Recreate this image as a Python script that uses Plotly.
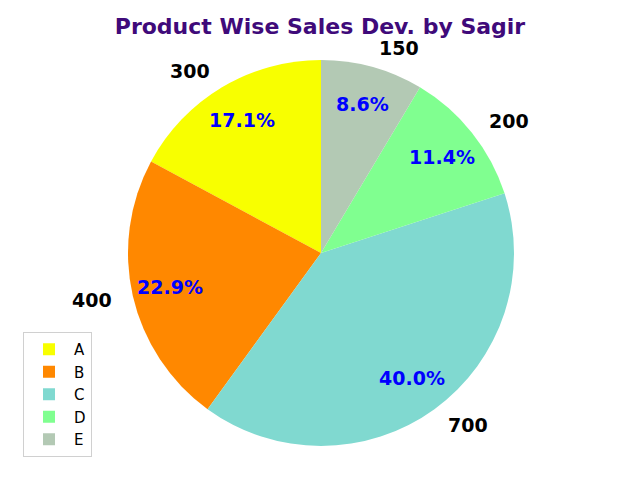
import math
import plotly.graph_objects as go

products = ["A", "B", "C", "D", "E"]
sales = [300, 400, 700, 200, 150]
colors = ["#f8ff00", "#ff8800", "#80d9d0", "#80ff90", "#b3c9b4"]

W, H = 640, 480
cx, cy, r = 321, 480 - 253, 193  # pie centre (px from bottom-left) and radius

total = sum(sales)

fig = go.Figure(go.Pie(
    labels=products, values=sales, sort=False, direction="counterclockwise",
    rotation=-360.0 * sales[0] / total, marker=dict(colors=colors, line=dict(width=0)),
    textinfo="none", hoverinfo="label+value+percent",
    domain=dict(x=[(cx - r) / W, (cx + r) / W], y=[(cy - r) / H, (cy + r) / H]),
))

start = 90.0
annotations = []
for name, v in zip(products, sales):
    span = 360.0 * v / total
    mid = math.radians(start + span / 2)
    start += span
    c, s = math.cos(mid), math.sin(mid)
    annotations.append(dict(
        x=(cx + 1.1 * r * c) / W, y=(cy + 1.1 * r * s) / H, xref="paper", yref="paper",
        text=f"<b>{v}</b>", showarrow=False, xanchor="left" if c > 0 else "right",
        yanchor="middle", font=dict(family="DejaVu Sans", size=19, color="black")))
    annotations.append(dict(
        x=(cx + 0.8 * r * c) / W, y=(cy + 0.8 * r * s) / H, xref="paper", yref="paper",
        text=f"<b>{100 * v / total:.1f}%</b>", showarrow=False, xanchor="center",
        yanchor="middle", font=dict(family="DejaVu Sans", size=19, color="blue")))

fig.update_layout(
    width=W, height=H, margin=dict(l=0, r=0, t=0, b=0),
    paper_bgcolor="white", plot_bgcolor="white",
    title=dict(text="<b>Product Wise Sales Dev. by Sagir</b>", x=0.5, xanchor="center",
               y=1 - 26 / H, yanchor="middle",
               font=dict(family="DejaVu Sans", size=22, color="#3f0a7a")),
    legend=dict(x=23 / W, y=(480 - 457) / H, xanchor="left", yanchor="bottom",
                bgcolor="white", bordercolor="#d0d0d0", borderwidth=1, itemwidth=40,
                font=dict(family="DejaVu Sans", size=15, color="black")),
    annotations=annotations,
)

fig.write_html("out.html", config={"displayModeBar": False},
               post_script="document.body.style.margin='0';")
